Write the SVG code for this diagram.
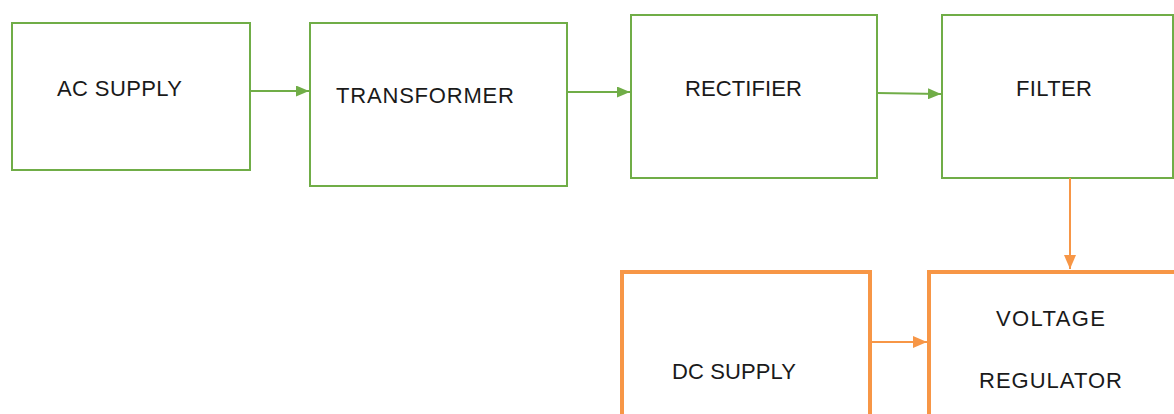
<svg xmlns="http://www.w3.org/2000/svg" width="1174" height="414" viewBox="0 0 1174 414">
<style>
.g{fill:#fff;stroke:#70AD47;stroke-width:2}
.o{fill:#fff;stroke:#F79646;stroke-width:4}
.t{font-family:"Liberation Sans",Arial,sans-serif;font-size:22px;fill:#1a1a1a}
.cg{stroke:#70AD47;stroke-width:2;fill:none}
.co{stroke:#F79646;stroke-width:2;fill:none}
</style>
<defs>
<marker id="ag" viewBox="0 0 13 11" refX="13" refY="5.5" markerWidth="13" markerHeight="11" markerUnits="userSpaceOnUse" orient="auto"><path d="M0,0L13,5.5L0,11Z" fill="#70AD47"/></marker>
<marker id="ao" viewBox="0 0 14 12" refX="14" refY="6" markerWidth="14" markerHeight="12" markerUnits="userSpaceOnUse" orient="auto"><path d="M0,0L14,6L0,12Z" fill="#F79646"/></marker>
</defs>
<rect width="1174" height="414" fill="#fff"/>
<g id="ac-supply"><rect class="g" x="12" y="23" width="238" height="147"/><text class="t" x="57" y="96" textLength="125">AC SUPPLY</text></g>
<g id="transformer"><rect class="g" x="310" y="23" width="257" height="163"/><text class="t" x="336" y="103" textLength="178">TRANSFORMER</text></g>
<g id="rectifier"><rect class="g" x="631" y="15" width="246" height="163"/><text class="t" x="685" y="96" textLength="117">RECTIFIER</text></g>
<g id="filter"><rect class="g" x="942" y="15" width="231" height="163"/><text class="t" x="1016" y="96" textLength="76">FILTER</text></g>
<g id="dc-supply"><rect class="o" x="622" y="272" width="248" height="160"/><text class="t" x="672" y="379" textLength="124">DC SUPPLY</text></g>
<g id="voltage-regulator"><rect class="o" x="929" y="272" width="250" height="160"/><text class="t" x="996" y="326" textLength="109">VOLTAGE</text><text class="t" x="979" y="388" textLength="143">REGULATOR</text></g>
<g id="connectors">
<line class="cg" x1="250" y1="91" x2="309" y2="91" marker-end="url(#ag)"/>
<line class="cg" x1="567" y1="92" x2="630" y2="92" marker-end="url(#ag)"/>
<line class="cg" x1="877" y1="93" x2="941" y2="94" marker-end="url(#ag)"/>
<line class="co" x1="1070" y1="178" x2="1070" y2="269" marker-end="url(#ao)"/>
<line class="co" x1="870" y1="342" x2="927" y2="342" marker-end="url(#ao)"/>
</g>
</svg>
